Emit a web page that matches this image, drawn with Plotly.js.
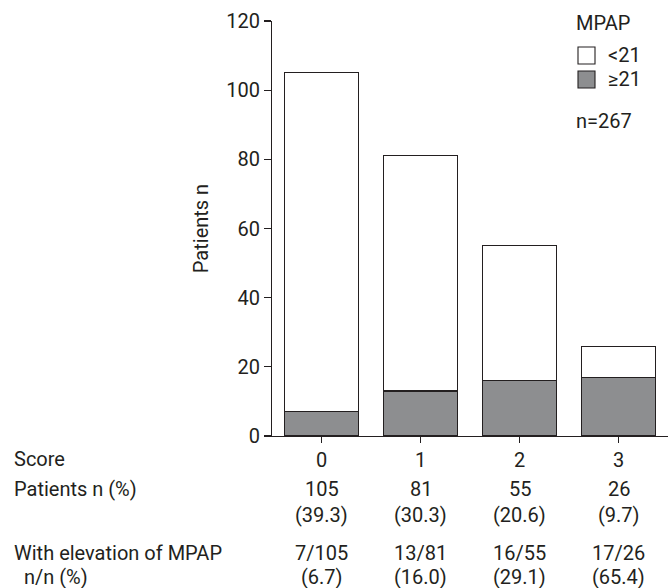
<!DOCTYPE html>
<html>
<head>
<meta charset="utf-8">
<script src="https://cdn.plot.ly/plotly-3.0.1.min.js"></script>
<style>html,body{margin:0;padding:0;background:#fff;}#chart{width:669px;height:588px;}</style>
</head>
<body>
<div id="chart"></div>
<script>
// Data
const scores = [0, 1, 2, 3];
const below21 = [98, 68, 39, 9];      // MPAP <21
const atLeast21 = [7, 13, 16, 17];    // MPAP >=21
const totals = [105, 81, 55, 26];
const pctTotal = ['39.3', '30.3', '20.6', '9.7'];
const pctElevated = ['6.7', '16.0', '29.1', '65.4'];
const rowLabels = ['Score', 'Patients n (%)', 'With elevation of MPAP', '  n/n (%)'];
const legendNames = ['<21', '≥21'];

const ink = '#231f20';
const grey = '#8d8e90';
const fontFam = 'Roboto, "DejaVu Sans", sans-serif';
const fs = 20;

const traces = [
  {type: 'bar', name: legendNames[1], x: scores, y: atLeast21, width: 0.74,
   marker: {color: grey, line: {color: ink, width: 1.1}}},
  {type: 'bar', name: legendNames[0], x: scores, y: below21, width: 0.74,
   marker: {color: '#ffffff', line: {color: ink, width: 1.1}}}
];

const plotLeft = 272, plotW = 396;
const plotTop = 21, plotBottom = 436, plotH = plotBottom - plotTop;
function py(pix) { return (plotBottom - pix) / plotH; }
function px(pix) { return (pix - plotLeft) / plotW; }

const font = {family: fontFam, size: fs, color: ink};
const annotations = [];
const labelRowsY = [459, 489, 553, 577];
rowLabels.forEach((t, i) => {
  annotations.push({xref: 'paper', yref: 'paper', x: px(12), y: py(labelRowsY[i]),
    xanchor: 'left', yanchor: 'middle', text: t.replace(/ /g, '&nbsp;'), showarrow: false, font: font});
});
scores.forEach((s, i) => {
  const rows = [
    [String(totals[i]), 489],
    ['(' + pctTotal[i] + ')', 515],
    [atLeast21[i] + '/' + totals[i], 553],
    ['(' + pctElevated[i] + ')', 577]
  ];
  rows.forEach(r => {
    annotations.push({xref: 'x', yref: 'paper', x: s, y: py(r[1]),
      xanchor: 'center', yanchor: 'middle', text: r[0], showarrow: false, font: font});
  });
});
// legend (drawn manually)
annotations.push({xref: 'paper', yref: 'paper', x: px(574), y: py(23), xanchor: 'left', yanchor: 'middle',
  text: 'MPAP', showarrow: false, font: font});
annotations.push({xref: 'paper', yref: 'paper', x: px(606), y: py(55), xanchor: 'left', yanchor: 'middle',
  text: '&lt;21', showarrow: false, font: font});
annotations.push({xref: 'paper', yref: 'paper', x: px(606), y: py(79), xanchor: 'left', yanchor: 'middle',
  text: legendNames[1], showarrow: false, font: font});
annotations.push({xref: 'paper', yref: 'paper', x: px(574), y: py(121), xanchor: 'left', yanchor: 'middle',
  text: 'n=267', showarrow: false, font: font});

const shapes = [
  {type: 'rect', xref: 'paper', yref: 'paper', x0: px(578), x1: px(595), y0: py(47), y1: py(64),
   fillcolor: '#ffffff', line: {color: ink, width: 1.1}},
  {type: 'rect', xref: 'paper', yref: 'paper', x0: px(578), x1: px(595), y0: py(71), y1: py(88),
   fillcolor: grey, line: {color: ink, width: 1.1}}
];

const layout = {
  width: 669, height: 588,
  margin: {l: plotLeft, r: 669 - plotLeft - plotW, t: plotTop, b: 588 - plotBottom},
  paper_bgcolor: '#fff', plot_bgcolor: '#fff',
  font: font,
  barmode: 'stack',
  showlegend: false,
  xaxis: {
    range: [-0.5, 3.5], tickvals: scores, ticktext: scores.map(String),
    ticks: 'outside', ticklen: 6, tickcolor: ink, tickwidth: 1.1,
    showline: true, linecolor: ink, linewidth: 1.1,
    showgrid: false, zeroline: false, fixedrange: true,
    tickfont: font
  },
  yaxis: {
    range: [0, 120], dtick: 20, tick0: 0,
    ticks: 'outside', ticklen: 7, tickcolor: ink, tickwidth: 1.1,
    showline: true, linecolor: ink, linewidth: 1.1,
    showgrid: false, zeroline: false, fixedrange: true,
    tickfont: font,
    title: {text: 'Patients n', standoff: 12, font: font}
  },
  annotations: annotations,
  shapes: shapes
};

Plotly.newPlot('chart', traces, layout, {displayModeBar: false, staticPlot: true});
</script>
</body>
</html>
